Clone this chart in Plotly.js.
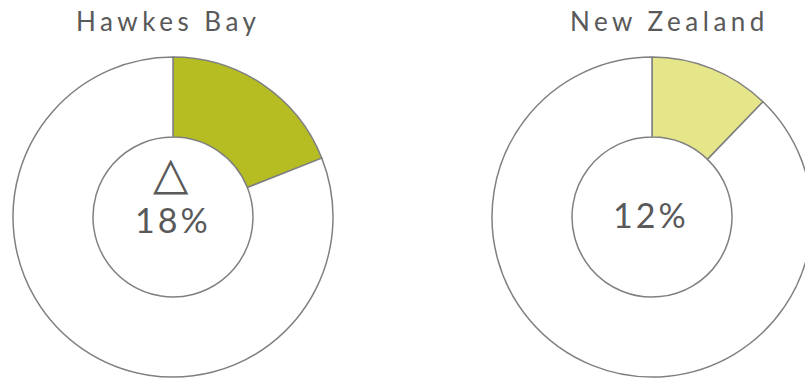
<!DOCTYPE html>
<html><head><meta charset="utf-8">
<script src="https://cdn.plot.ly/plotly-3.0.1.min.js"></script>
<style>
html,body{margin:0;padding:0;overflow:hidden;background:#fff;width:805px;height:378px;}
#chart{width:820px;height:378px;}
</style>
</head><body>
<div id="chart"></div>
<script>
const regions = ["Hawkes Bay", "New Zealand"];
const sliceLabels = ["Share", "Other"];
const hawkesValues = [19, 81];
const nzValues = [12.2, 87.8];
const pctLabels = ["18%", "12%"];
const colors = [["#b5bd22", "#ffffff"], ["#e5e68a", "#ffffff"]];

const W = 820, H = 378;
function pie(values, cols, cx, cy, r) {
  return {
    type: "pie", values: values, labels: sliceLabels, sort: false,
    direction: "clockwise", rotation: 0, hole: 0.5,
    textinfo: "none", hoverinfo: "none", showlegend: false,
    marker: {colors: cols, line: {color: "#808080", width: 1.5}},
    domain: {x: [(cx - r) / W, (cx + r) / W], y: [(H - cy - r) / H, (H - cy + r) / H]}
  };
}
const data = [
  pie(hawkesValues, colors[0], 173, 217, 160),
  pie(nzValues, colors[1], 652, 217, 160)
];
const font = "Lato, 'Open Sans', sans-serif";
const sp = (t, s) => '<span style="letter-spacing:' + s + 'px">' + t + '</span>';
const annotations = [
  {text: sp(regions[0], 4.5), x: 168 / W, y: 1 - 21 / H, font: {family: font, size: 26, color: "#595959"}},
  {text: sp(regions[1], 4.5), x: 669 / W, y: 1 - 21 / H, font: {family: font, size: 26, color: "#595959"}},
  {text: "△", x: 171 / W, y: 1 - 173 / H, font: {family: "DejaVu Sans", size: 46, color: "#595959"}},
  {text: sp(pctLabels[0], 3), x: 173 / W, y: 1 - 219 / H, font: {family: font, size: 34, color: "#595959"}},
  {text: sp(pctLabels[1], 3), x: 651 / W, y: 1 - 214 / H, font: {family: font, size: 34, color: "#595959"}}
].map(a => Object.assign({xref: "paper", yref: "paper", showarrow: false, xanchor: "center", yanchor: "middle"}, a));

Plotly.newPlot("chart", data, {
  width: W, height: H, margin: {l: 0, r: 0, t: 0, b: 0},
  paper_bgcolor: "#fff", plot_bgcolor: "#fff", annotations: annotations
}, {staticPlot: true, displayModeBar: false});
</script>
</body></html>
